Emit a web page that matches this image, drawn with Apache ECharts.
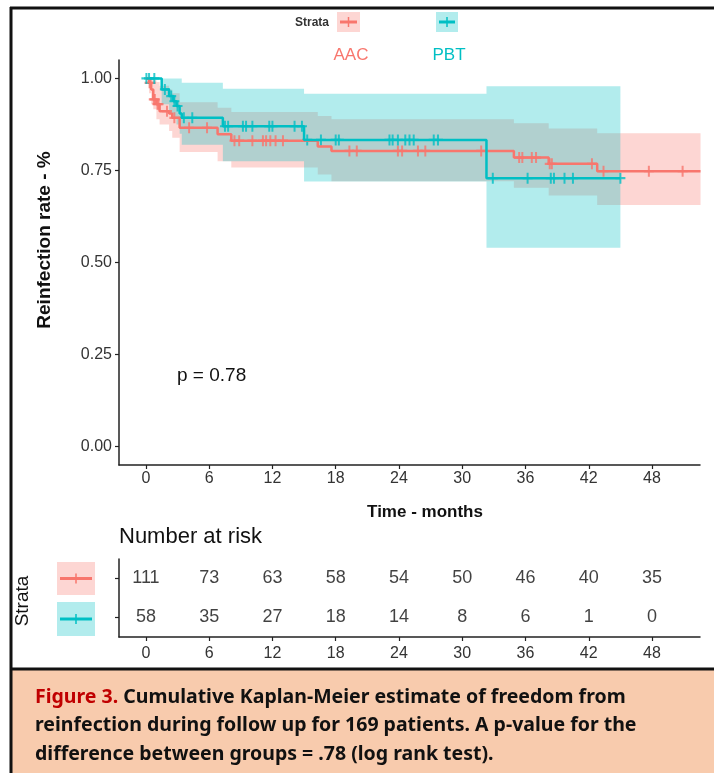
<!DOCTYPE html>
<html>
<head>
<meta charset="utf-8">
<title>Reinfection Kaplan-Meier</title>
<script src="https://cdn.jsdelivr.net/npm/echarts@6.0.0/dist/echarts.min.js"></script>
<style>
html, body { margin: 0; padding: 0; background: #fff; }
#km_chart { width: 714px; height: 773px; }
</style>
</head>
<body>
<div id="km_chart"></div>
<script>
// step curves (month, estimate)
var aacTime  = [0, 0.3, 0.5, 0.7, 1.0, 1.3, 2.2, 2.5, 3.2, 6.8, 8.1, 16.3, 17.6, 34.9, 38.2, 42.8, 52.6];
var aacSurv  = [1, 0.988, 0.970, 0.943, 0.930, 0.911, 0.905, 0.893, 0.866, 0.848, 0.831, 0.815, 0.803, 0.785, 0.768, 0.748, 0.748];
var aacUpper = [1, 1, 1, 0.995, 0.99, 0.98, 0.97, 0.96, 0.935, 0.920, 0.909, 0.898, 0.889, 0.878, 0.864, 0.851, 0.851];
var aacLower = [1, 0.96, 0.93, 0.916, 0.889, 0.875, 0.857, 0.839, 0.80, 0.775, 0.758, 0.739, 0.721, 0.703, 0.682, 0.656, 0.656];

var pbtTime  = [0, 1.5, 2.2, 2.6, 2.9, 3.2, 3.4, 7.3, 15.0, 32.3, 45.0];
var pbtSurv  = [1, 0.970, 0.952, 0.938, 0.925, 0.905, 0.893, 0.870, 0.833, 0.729, 0.729];
var pbtUpper = [1, 1, 1, 1, 1, 1, 0.988, 0.972, 0.958, 0.979, 0.979];
var pbtLower = [1, 0.93, 0.905, 0.89, 0.875, 0.85, 0.82, 0.775, 0.72, 0.54, 0.54];

// censoring times (+ marks)
var aacCensor = [0.35, 0.45, 0.75, 0.85, 1.1, 1.2, 2.0, 2.7, 4.1, 5.8, 8.4, 8.85, 10.1, 11.1, 11.4, 11.8, 12.3, 13.0,
                 19.3, 20.0, 23.9, 24.3, 25.8, 26.5, 31.8, 35.4, 35.7, 36.6, 37.0, 38.3, 38.5, 42.3, 43.4, 47.7, 50.9];
var pbtCensor = [0.05, 0.3, 0.8, 1.8, 2.4, 2.7, 3.0, 3.6, 4.4, 7.5, 7.8, 9.2, 9.5, 10.1, 11.7, 12.0, 14.1, 14.8,
                 15.3, 16.6, 18.0, 18.3, 23.1, 23.4, 23.9, 24.6, 25.0, 25.4, 27.3, 27.7, 32.9, 36.2, 38.4, 38.7,
                 39.7, 40.5, 45.0];

// number at risk table
var riskMonths = [0, 6, 12, 18, 24, 30, 36, 42, 48];
var aacRisk = [111, 73, 63, 58, 54, 50, 46, 40, 35];
var pbtRisk = [58, 35, 27, 18, 14, 8, 6, 1, 0];

var xTicks = [0, 6, 12, 18, 24, 30, 36, 42, 48];
var yTicks = [0, 0.25, 0.5, 0.75, 1];

var RED = "#F8766D";
var TEAL = "#00BFC4";
var FONT = "'Liberation Sans', Arial, sans-serif";
var CAPTION_FONT = "bold 19.5px 'Noto Sans', sans-serif";
var PLUS = "path://M4,0h2v4h4v2h-4v4h-2v-4h-4v-2h4z";

function survAt(times, surv, t) {
    var v = surv[0];
    for (var i = 0; i < times.length; i++) {
        if (times[i] <= t) v = surv[i];
    }
    return v;
}

function curve(times, surv) {
    return times.map(function (t, i) { return [t, surv[i]]; });
}

function censorPoints(cens, times, surv) {
    return cens.map(function (t) { return [t, survAt(times, surv, t)]; });
}

// confidence ribbon as one step polygon
function ribbon(times, upper, lower, fill) {
    return function (params, api) {
        var pts = [];
        var n = times.length;
        for (var i = 0; i < n; i++) {
            if (i > 0) pts.push(api.coord([times[i], upper[i - 1]]));
            pts.push(api.coord([times[i], upper[i]]));
        }
        for (var j = n - 1; j >= 0; j--) {
            pts.push(api.coord([times[j], lower[j]]));
            if (j > 0) pts.push(api.coord([times[j], lower[j - 1]]));
        }
        return { type: "polygon", shape: { points: pts }, style: { fill: fill } };
    };
}

function riskRow(name, counts) {
    return counts.map(function (c, i) { return [riskMonths[i], name, c]; });
}

function keyBox(x, y, w, h, color, fill) {
    var mid = y + h / 2;
    var cx = x + w / 2;
    return [
        { type: "rect", shape: { x: x, y: y, width: w, height: h }, style: { fill: fill } },
        { type: "line", shape: { x1: x + 3, y1: mid, x2: x + w - 3, y2: mid }, style: { stroke: color, lineWidth: 3 } },
        { type: "line", shape: { x1: cx, y1: mid - 5, x2: cx, y2: mid + 5 }, style: { stroke: color, lineWidth: 1.5 } }
    ];
}

var chart = echarts.init(document.getElementById("km_chart"));

var axisLine = { show: true, onZero: false, lineStyle: { color: "#222", width: 1.5 } };
var axisTick = { show: true, length: 4, lineStyle: { color: "#222", width: 1.2 } };
var tickFont = { fontSize: 16, fontFamily: FONT, color: "#333" };

var graphics = [
    // caption panel
    { type: "rect", shape: { x: 11, y: 670, width: 703, height: 103 }, style: { fill: "#F8CBAD" } },
    { type: "line", shape: { x1: 11, y1: 7, x2: 11, y2: 773 }, style: { stroke: "#111", lineWidth: 3 } },
    { type: "line", shape: { x1: 10, y1: 8, x2: 714, y2: 8 }, style: { stroke: "#111", lineWidth: 3 } },
    { type: "line", shape: { x1: 10, y1: 669, x2: 714, y2: 669 }, style: { stroke: "#111", lineWidth: 3 } },
    {
        type: "text", x: 35, y: 683,
        style: {
            text: "{r|Figure 3.} Cumulative Kaplan-Meier estimate of freedom from\nreinfection during follow up for 169 patients. A p-value for the\ndifference between groups = .78 (log rank test).",
            font: CAPTION_FONT, fill: "#111", lineHeight: 28.5,
            verticalAlign: "top",
            rich: { r: { fill: "#C00000", font: CAPTION_FONT, lineHeight: 28.5 } }
        }
    },
    // legend
    { type: "text", x: 312, y: 23, style: { text: "Strata", font: "bold 12px " + FONT, fill: "#333", align: "center", verticalAlign: "middle" } },
    { type: "text", x: 351, y: 55, style: { text: "AAC", font: "17px " + FONT, fill: RED, align: "center", verticalAlign: "middle" } },
    { type: "text", x: 449, y: 55, style: { text: "PBT", font: "17px " + FONT, fill: TEAL, align: "center", verticalAlign: "middle" } },
    // axis titles and notes
    { type: "text", x: 45, y: 240, rotation: Math.PI / 2, style: { text: "Reinfection rate - %", font: "bold 19px " + FONT, fill: "#111", align: "center", verticalAlign: "middle" } },
    { type: "text", x: 425, y: 512, style: { text: "Time - months", font: "bold 17px " + FONT, fill: "#111", align: "center", verticalAlign: "middle" } },
    { type: "text", x: 177, y: 376, style: { text: "p = 0.78", font: "19px " + FONT, fill: "#111", verticalAlign: "middle" } },
    { type: "text", x: 119, y: 537, style: { text: "Number at risk", font: "22px " + FONT, fill: "#111", verticalAlign: "middle" } },
    { type: "text", x: 23, y: 601, rotation: Math.PI / 2, style: { text: "Strata", font: "19px " + FONT, fill: "#111", align: "center", verticalAlign: "middle" } }
].concat(
    keyBox(337, 12, 23, 20, RED, "rgba(248,118,109,0.3)"),
    keyBox(436, 12, 22, 20, TEAL, "rgba(0,191,196,0.3)"),
    keyBox(57, 562, 38, 33, RED, "rgba(248,118,109,0.3)"),
    keyBox(57, 602, 38, 34, TEAL, "rgba(0,191,196,0.3)")
);

chart.setOption({
    animation: false,
    grid: [
        { left: 119, top: 60, width: 581, height: 405 },
        { left: 119, top: 559, width: 581, height: 78 }
    ],
    xAxis: [
        {
            type: "value", gridIndex: 0, min: -2.55, max: 52.55,
            axisLine: axisLine, axisTick: Object.assign({ customValues: xTicks }, axisTick),
            axisLabel: Object.assign({ customValues: xTicks, margin: 6 }, tickFont),
            splitLine: { show: false }
        },
        {
            type: "value", gridIndex: 1, min: -2.55, max: 52.55,
            axisLine: axisLine, axisTick: Object.assign({ customValues: xTicks }, axisTick),
            axisLabel: Object.assign({ customValues: xTicks, margin: 9 }, tickFont),
            splitLine: { show: false }
        }
    ],
    yAxis: [
        {
            type: "value", gridIndex: 0, min: -0.05, max: 1.05,
            axisLine: axisLine, axisTick: Object.assign({ customValues: yTicks }, axisTick),
            axisLabel: Object.assign({
                customValues: yTicks, margin: 7,
                formatter: function (v) { return v.toFixed(2); }
            }, tickFont),
            splitLine: { show: false }
        },
        {
            type: "category", gridIndex: 1, data: ["PBT", "AAC"],
            axisLine: axisLine, axisTick: Object.assign({ alignWithLabel: true }, axisTick),
            axisLabel: { show: false }
        }
    ],
    graphic: graphics,
    series: [
        {
            name: "AAC", type: "line", step: "end", data: curve(aacTime, aacSurv),
            showSymbol: false, lineStyle: { color: RED, width: 2.5 }, itemStyle: { color: RED }
        },
        {
            name: "PBT", type: "line", step: "end", data: curve(pbtTime, pbtSurv),
            showSymbol: false, lineStyle: { color: TEAL, width: 2.5 }, itemStyle: { color: TEAL }
        },
        {
            type: "custom", data: [[0, 0]], silent: true,
            renderItem: ribbon(aacTime, aacUpper, aacLower, "rgba(248,118,109,0.3)")
        },
        {
            type: "custom", data: [[0, 0]], silent: true,
            renderItem: ribbon(pbtTime, pbtUpper, pbtLower, "rgba(0,191,196,0.3)")
        },
        {
            type: "scatter", data: censorPoints(aacCensor, aacTime, aacSurv),
            symbol: PLUS, symbolSize: [10, 11], itemStyle: { color: RED }, silent: true
        },
        {
            type: "scatter", data: censorPoints(pbtCensor, pbtTime, pbtSurv),
            symbol: PLUS, symbolSize: [10, 11], itemStyle: { color: TEAL }, silent: true
        },
        {
            type: "scatter", xAxisIndex: 1, yAxisIndex: 1, data: riskRow("AAC", aacRisk),
            symbolSize: 0, silent: true,
            label: { show: true, position: "inside", formatter: function (p) { return p.value[2]; }, fontSize: 18, fontFamily: FONT, color: "#111" }
        },
        {
            type: "scatter", xAxisIndex: 1, yAxisIndex: 1, data: riskRow("PBT", pbtRisk),
            symbolSize: 0, silent: true,
            label: { show: true, position: "inside", formatter: function (p) { return p.value[2]; }, fontSize: 18, fontFamily: FONT, color: "#111" }
        }
    ]
});

window.addEventListener("resize", function () {
    chart.resize();
});
</script>
</body>
</html>
